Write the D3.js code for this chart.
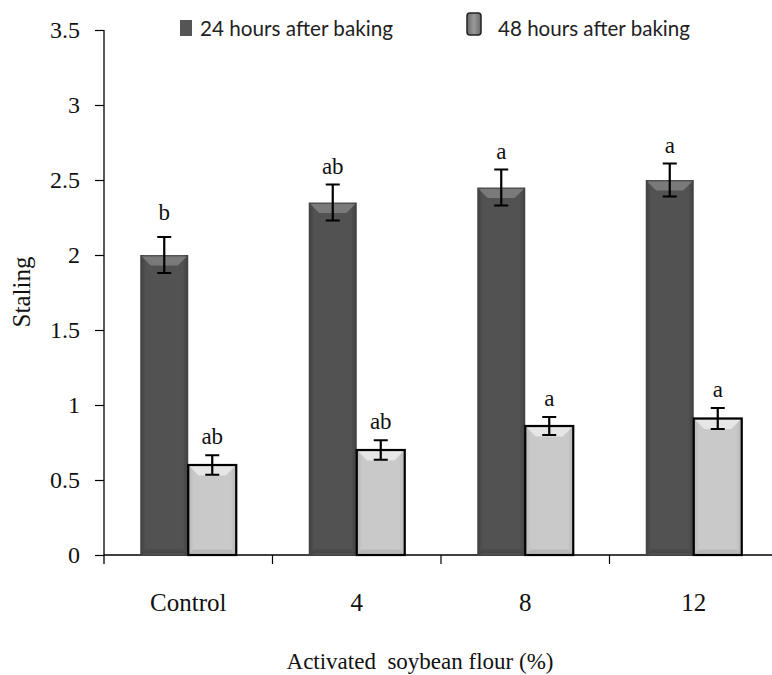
<!DOCTYPE html>
<html>
<head>
<meta charset="utf-8">
<script src="https://cdn.jsdelivr.net/npm/d3@7/dist/d3.min.js"></script>
<style>
  html, body { margin: 0; padding: 0; background: #fff; }
  svg { display: block; }
  .serif { font-family: "Liberation Serif", "Times New Roman", Times, serif; fill: #111; }
  .legend { font-family: Lato, "Open Sans", sans-serif; fill: #222; }
</style>
</head>
<body>
<svg id="chart" width="772" height="675"></svg>
<script>
// Staling of bread with activated soybean flour
const categories = ["Control", "4", "8", "12"];
const seriesNames = ["24 hours after baking", "48 hours after baking"];
const values24 = [2.0, 2.35, 2.45, 2.5];
const values48 = [0.6, 0.7, 0.86, 0.91];
const errors24 = [0.12, 0.12, 0.12, 0.11];
const errors48 = [0.065, 0.065, 0.06, 0.07];
const letters24 = ["b", "ab", "a", "a"];
const letters48 = ["ab", "ab", "a", "a"];
const yTicks = [0, 0.5, 1, 1.5, 2, 2.5, 3, 3.5];

const svg = d3.select("#chart");
const margin = { left: 104, top: 30 };
const plotRight = 778;
const plotBottom = 555;

const x = d3.scaleBand().domain(categories).range([margin.left, plotRight]).padding(0);
const y = d3.scaleLinear().domain([0, 3.5]).range([plotBottom, margin.top]);
const barW = 48;

const defs = svg.append("defs");
function sideGradient(id, edge, mid) {
  const g = defs.append("linearGradient").attr("id", id).attr("x1", 0).attr("x2", 1).attr("y1", 0).attr("y2", 0);
  g.append("stop").attr("offset", "0%").attr("stop-color", edge);
  g.append("stop").attr("offset", "12%").attr("stop-color", mid);
  g.append("stop").attr("offset", "88%").attr("stop-color", mid);
  g.append("stop").attr("offset", "100%").attr("stop-color", edge);
}
sideGradient("darkGrad", "#404040", "#525252");
sideGradient("lightGrad", "#b6b6b6", "#c9c9c9");
const legGrad = defs.append("linearGradient").attr("id", "legGrad").attr("x1", 0).attr("x2", 1);
legGrad.append("stop").attr("offset", "0%").attr("stop-color", "#6a6a6a");
legGrad.append("stop").attr("offset", "50%").attr("stop-color", "#9a9a9a");
legGrad.append("stop").attr("offset", "100%").attr("stop-color", "#6a6a6a");

// Y axis
const yAxis = d3.axisLeft(y).tickValues(yTicks).tickSize(9).tickPadding(15)
  .tickFormat(d => String(d));
const gy = svg.append("g").attr("transform", `translate(${margin.left},0)`).call(yAxis)
  .attr("font-family", null).attr("font-size", null);
gy.select(".domain").attr("d", `M0,${y(3.5)}V${plotBottom + 9}`).attr("stroke", "#000").attr("stroke-width", 1.3);
gy.selectAll(".tick line").attr("stroke", "#000").attr("stroke-width", 1.2);
gy.selectAll(".tick text").attr("class", "serif").style("font-size", "24px");

// X axis: ticks at category boundaries
const gx = svg.append("g").attr("transform", `translate(0,${plotBottom})`);
gx.append("line").attr("x1", margin.left).attr("x2", 772).attr("y1", 0).attr("y2", 0)
  .attr("stroke", "#000").attr("stroke-width", 1.3);
gx.selectAll(".bound").data(categories.slice(1)).enter().append("line")
  .attr("x1", d => x(d)).attr("x2", d => x(d)).attr("y1", 0).attr("y2", 9)
  .attr("stroke", "#000").attr("stroke-width", 1.2);
gx.selectAll(".cat").data(categories).enter().append("text")
  .attr("class", "serif")
  .attr("x", d => x(d) + x.bandwidth() / 2).attr("y", 56)
  .attr("text-anchor", "middle")
  .style("font-size", "25px")
  .text(d => d);

// Axis titles
svg.append("text").attr("class", "serif").attr("x", 420).attr("y", 669).attr("text-anchor", "middle")
  .style("font-size", "23px").style("white-space", "pre")
  .text("Activated  soybean flour (%)");
svg.append("text").attr("class", "serif").attr("transform", "translate(30,292) rotate(-90)").attr("text-anchor", "middle")
  .style("font-size", "25px")
  .text("Staling");

// Bars
const data = categories.map((c, i) => [
  { cat: c, s: 0, v: values24[i], e: errors24[i], l: letters24[i] },
  { cat: c, s: 1, v: values48[i], e: errors48[i], l: letters48[i] }
]).flat();

const barX = d => x(d.cat) + x.bandwidth() / 2 + (d.s === 0 ? -barW : 0);

const bars = svg.append("g").selectAll("g").data(data).enter().append("g");
bars.append("rect")
  .attr("x", barX).attr("y", d => y(d.v))
  .attr("width", barW).attr("height", d => y(0) - y(d.v))
  .attr("fill", d => d.s === 0 ? "url(#darkGrad)" : "url(#lightGrad)")
  .attr("stroke", d => d.s === 0 ? "none" : "#000")
  .attr("stroke-width", 2.2);
// top bevel
bars.append("path")
  .attr("d", d => {
    const x0 = barX(d) + 1.5, x1 = barX(d) + barW - 1.5, t = y(d.v) + 1.5;
    return `M${x0},${t}L${x1},${t}L${x1 - 9},${t + 9}L${x0 + 9},${t + 9}Z`;
  })
  .attr("fill", d => d.s === 0 ? "#858585" : "#ededed").attr("opacity", 0.8);
// bottom bevel
bars.append("path")
  .attr("d", d => {
    const x0 = barX(d) + 1.5, x1 = barX(d) + barW - 1.5, b = y(0) - 1.5;
    return `M${x0},${b}L${x1},${b}L${x1 - 4},${b - 4}L${x0 + 4},${b - 4}Z`;
  })
  .attr("fill", d => d.s === 0 ? "#444" : "#b0b0b0").attr("opacity", 0.7);

// Error bars
const cx = d => barX(d) + barW / 2;
bars.append("path")
  .attr("d", d => {
    const t = y(d.v + d.e), b = y(d.v - d.e), c = cx(d);
    return `M${c - 7},${t}H${c + 7}M${c},${t}V${b}M${c - 7},${b}H${c + 7}`;
  })
  .attr("stroke", "#000").attr("stroke-width", 2.2).attr("fill", "none");

// Significance letters
bars.append("text")
  .attr("class", "serif")
  .attr("x", cx).attr("y", d => y(d.v + d.e) - (d.l === "b" ? 17 : 11))
  .attr("text-anchor", "middle")
  .style("font-size", "23px")
  .text(d => d.l);

// Legend
const leg = svg.append("g");
leg.append("rect").attr("x", 180).attr("y", 20).attr("width", 12).attr("height", 16).attr("fill", "#555");
leg.append("text").attr("class", "legend").attr("x", 200).attr("y", 36)
  .style("font-size", "22px")
  .attr("textLength", 193).attr("lengthAdjust", "spacingAndGlyphs")
  .text(seriesNames[0]);
leg.append("rect").attr("x", 467).attr("y", 13).attr("width", 14).attr("height", 22).attr("rx", 3)
  .attr("fill", "url(#legGrad)").attr("stroke", "#222").attr("stroke-width", 1.5);
leg.append("text").attr("class", "legend").attr("x", 498).attr("y", 36)
  .style("font-size", "22px")
  .attr("textLength", 192).attr("lengthAdjust", "spacingAndGlyphs")
  .text(seriesNames[1]);
</script>
</body>
</html>
